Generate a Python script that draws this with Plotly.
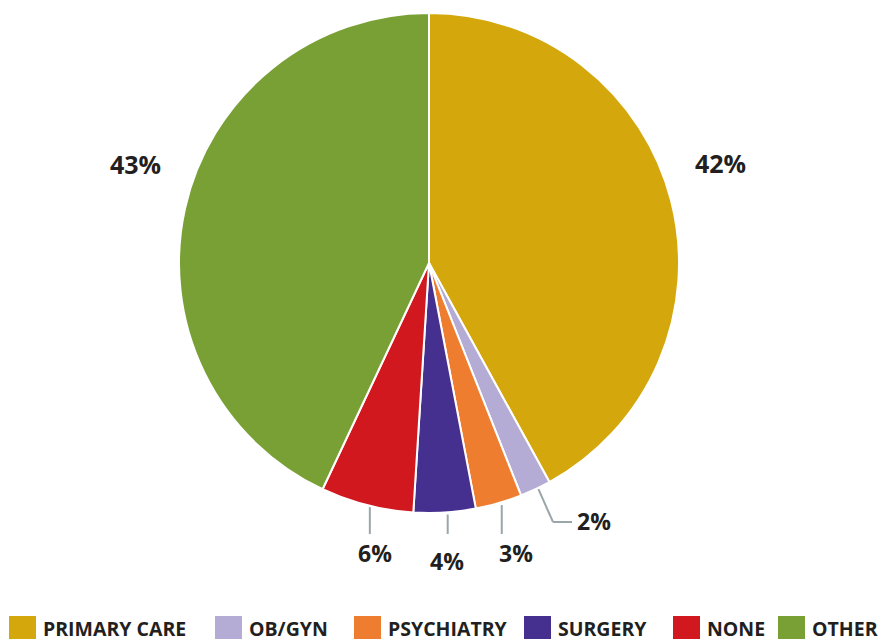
import math

import plotly.graph_objects as go

CATEGORIES = ["PRIMARY CARE", "OB/GYN", "PSYCHIATRY", "SURGERY", "NONE", "OTHER"]
SHARES = [42, 2, 3, 4, 6, 43]
COLORS = ["#d4a80c", "#b4acd4", "#ee7d30", "#45308f", "#d0181e", "#79a035"]

W, H = 878, 643
CX, CY, R = 429, 263, 250  # pie centre/radius in pixels
ML, MT = CX - R, CY - R
FONT = "Open Sans, Noto Sans, Arial, sans-serif"
INK = "#231f20"
LEAD = "#9aa6aa"


def to_paper(px, py):
    # screen pixels -> paper coords of the plot area
    return (px - ML) / (2 * R), (MT + 2 * R - py) / (2 * R)


fig = go.Figure(
    go.Pie(
        labels=CATEGORIES,
        values=SHARES,
        sort=False,
        direction="clockwise",
        rotation=0,
        marker=dict(colors=COLORS, line=dict(color="white", width=2)),
        textinfo="none",
        hoverinfo="label+percent",
        showlegend=False,
    )
)

annotations = []
shapes = []
total = sum(SHARES)
label_dx = {3: -1, 4: 5, 2: 14}
label_dy = {0: -25, 5: -33, 3: 27, 4: 19, 2: 19}
cum = 0
for i, v in enumerate(SHARES):
    mid = (cum + v / 2) / total * 2 * math.pi
    cum += v
    sx, sy = math.sin(mid), math.cos(mid)
    ex, ey = CX + R * sx, CY - R * sy
    text = f"{v}%"
    if v >= 10:
        x, y = to_paper(CX + 301 * sx, CY - 301 * sy + label_dy[i])
        annotations.append(dict(x=x, y=y, text=text, font_size=25))
        continue
    if i == 1:
        pts = [(ex + 3, ey), (553, 522), (572, 522)]
        for a, b in zip(pts[:-1], pts[1:]):
            x0, y0 = to_paper(*a)
            x1, y1 = to_paper(*b)
            shapes.append(dict(type="line", x0=x0, y0=y0, x1=x1, y1=y1,
                               line=dict(color=LEAD, width=2)))
        x, y = to_paper(594, 521)
        annotations.append(dict(x=x, y=y, text=text, font_size=23))
    else:
        yend = 534
        lx = ex + 3
        x0, y0 = to_paper(lx, ey + 2)
        x1, y1 = to_paper(lx, yend)
        shapes.append(dict(type="line", x0=x0, y0=y0, x1=x1, y1=y1,
                           line=dict(color=LEAD, width=2)))
        x, y = to_paper(lx + label_dx[i], yend + label_dy[i])
        annotations.append(dict(x=x, y=y, text=text, font_size=23))

for a in annotations:
    size = a.pop("font_size")
    a.update(xref="paper", yref="paper", showarrow=False,
             xanchor="center", yanchor="middle",
             font=dict(family=FONT, size=size, color=INK, weight="bold"))

# custom legend along the bottom
legend_x = [9, 215, 354, 524, 673, 778]
for name, color, lx in zip(CATEGORIES, COLORS, legend_x):
    x0, y0 = to_paper(lx, 639)
    x1, y1 = to_paper(lx + 27, 616)
    shapes.append(dict(type="rect", x0=x0, y0=y0, x1=x1, y1=y1,
                       fillcolor=color, line=dict(width=0)))
    tx, ty = to_paper(lx + 32, 628)
    annotations.append(dict(
        x=tx, y=ty, xref="paper", yref="paper", text=name,
        showarrow=False, xanchor="left", yanchor="middle",
        font=dict(family=FONT, size=19.5, color=INK, weight="bold"),
    ))

fig.update_layout(
    width=W,
    height=H,
    margin=dict(l=ML, r=W - CX - R, t=MT, b=H - CY - R),
    paper_bgcolor="white",
    plot_bgcolor="white",
    annotations=annotations,
    shapes=shapes,
    showlegend=False,
)

# drop the default page margin so the figure fills the window exactly
fig.write_html(
    "out.html",
    config={"displayModeBar": False},
    post_script="document.body.style.margin='0';document.body.style.overflow='hidden';",
)
